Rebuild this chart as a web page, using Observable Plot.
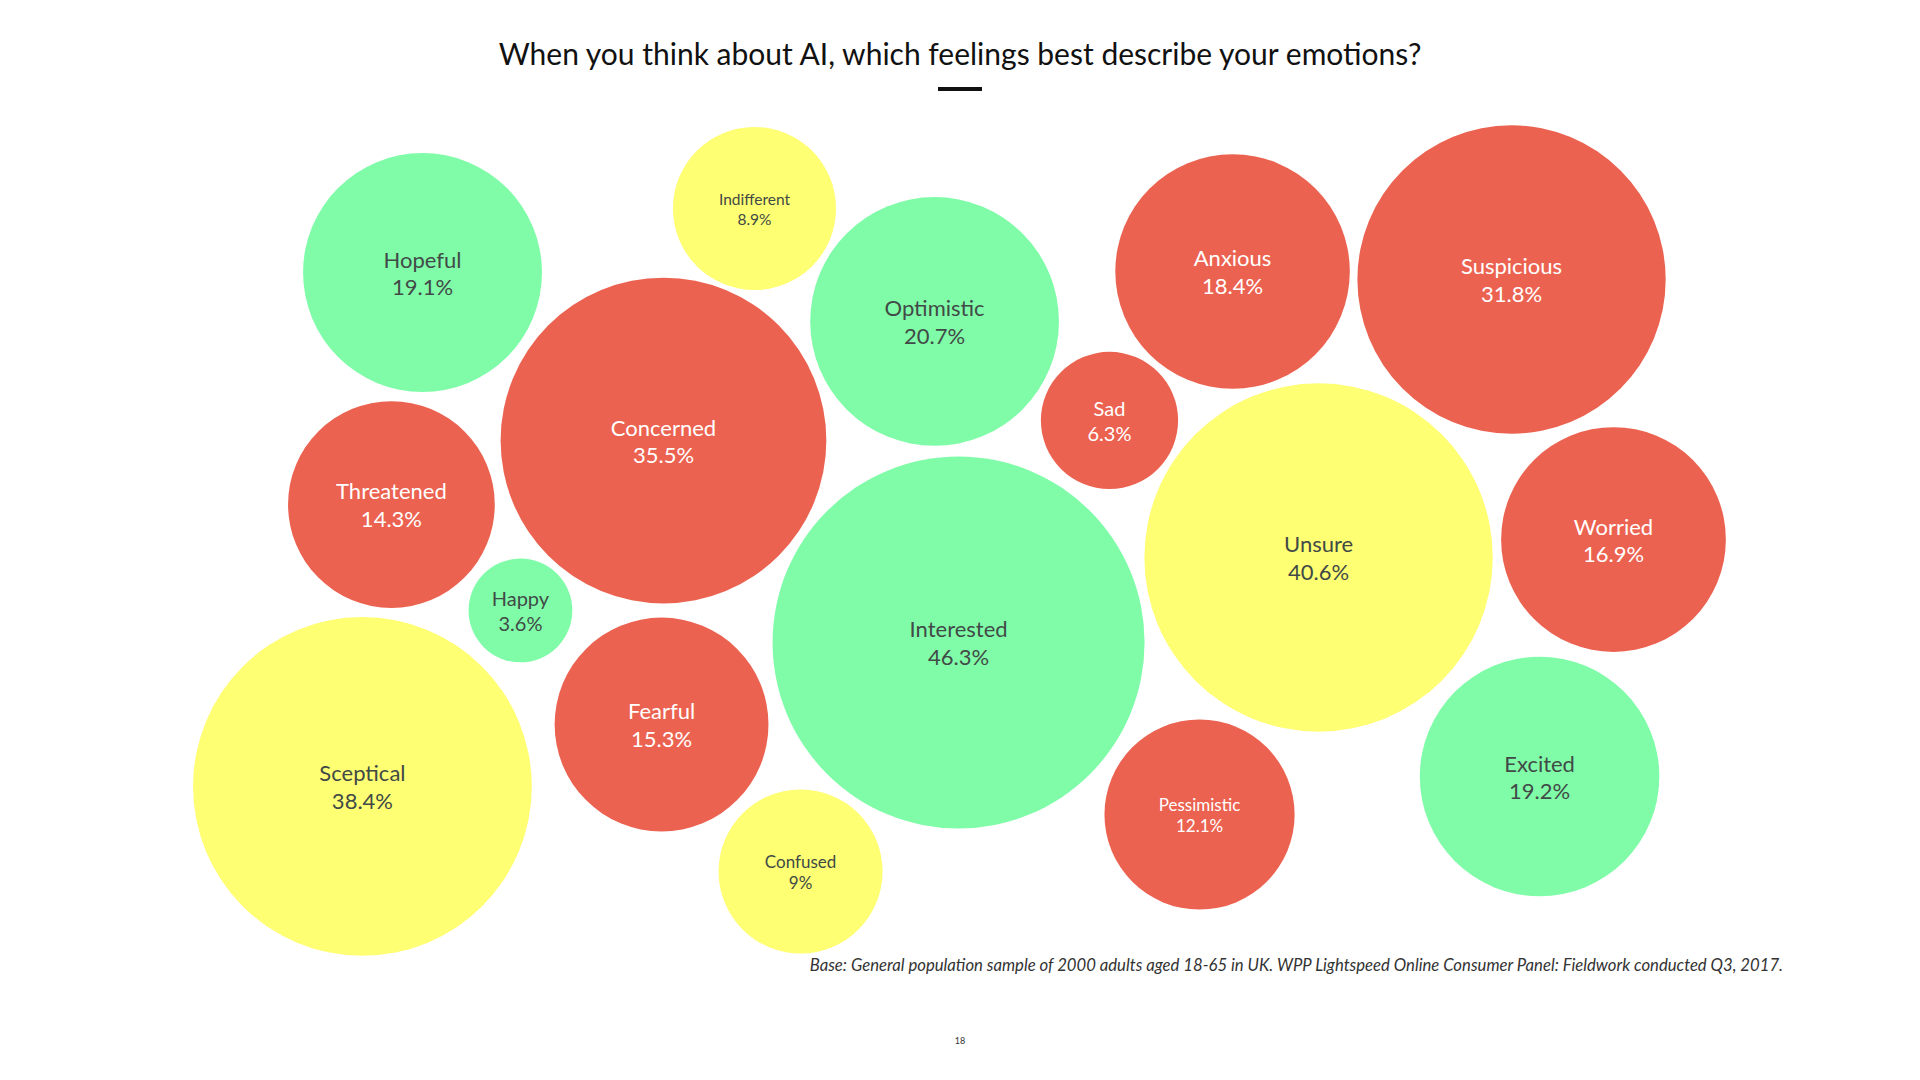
<!DOCTYPE html>
<html>
<head>
<meta charset="utf-8">
<script src="https://cdn.jsdelivr.net/npm/d3@7"></script>
<script src="https://cdn.jsdelivr.net/npm/@observablehq/plot@0.6"></script>
<style>
  html, body { margin: 0; padding: 0; background: #fff; }
  #page { position: relative; width: 1920px; height: 1080px; overflow: hidden; font-family: Lato, "Open Sans", sans-serif; }
  #title { position: absolute; top: 35px; left: 0; width: 1920px; text-align: center; font-size: 30px; color: #111; line-height: 36px; }
  #bar { position: absolute; top: 87px; left: 938px; width: 44px; height: 4px; background: #111; }
  #chart { position: absolute; top: 100px; left: 0; }
  #caption { position: absolute; top: 955px; left: 0; width: 1783px; text-align: right; font-style: italic; font-size: 16.7px; color: #333; }
  #pagenum { position: absolute; top: 1035px; left: 0; width: 1920px; text-align: center; font-size: 9px; color: #333; }
</style>
</head>
<body>
<div id="page">
  <div id="title">When you think about AI, which feelings best describe your emotions?</div>
  <div id="bar"></div>
  <div id="chart"></div>
  <div id="caption">Base: General population sample of 2000 adults aged 18-65 in UK. WPP Lightspeed Online Consumer Panel: Fieldwork conducted Q3, 2017.</div>
  <div id="pagenum">18</div>
</div>
<script>
// Data
const feelings = ["Hopeful","Indifferent","Optimistic","Anxious","Suspicious","Concerned","Threatened","Sad","Unsure","Worried","Happy","Interested","Fearful","Sceptical","Pessimistic","Excited","Confused"];
const shares   = [19.1, 8.9, 20.7, 18.4, 31.8, 35.5, 14.3, 6.3, 40.6, 16.9, 3.6, 46.3, 15.3, 38.4, 12.1, 19.2, 9];
const tones    = ["positive","neutral","positive","negative","negative","negative","negative","negative","neutral","negative","positive","positive","negative","neutral","negative","positive","neutral"];

// Bubble layout (percent of the chart area)
const layoutX = [21.98, 39.27, 48.65, 64.17, 78.70, 34.53, 20.36, 57.76, 68.65, 84.01, 27.08, 49.90, 34.43, 18.85, 62.45, 80.16, 41.67];
const layoutY = [19.55, 12.27, 25.11, 19.43, 20.34, 38.64, 45.91, 36.36, 51.93, 49.89, 57.95, 61.59, 70.91, 77.95, 81.14, 76.82, 87.61];

// Styles
const toneFill = {positive: "#80fca9", neutral: "#ffff73", negative: "#ec6250"};
const toneText = {positive: "#414a46", neutral: "#414a46", negative: "#ffffff"};
const labelSize = {Indifferent: 15.5, Pessimistic: 17, Confused: 17, Sad: 20, Happy: 20};

const data = feelings.map((f, i) => ({feeling: f, value: shares[i], tone: tones[i], lx: layoutX[i], ly: layoutY[i]}));

const W = 1920, H = 880;
const chart = Plot.plot({
  width: W,
  height: H,
  margin: 0,
  x: {domain: [0, 100], range: [0, W], axis: null},
  y: {domain: [0, 100], range: [0, H], axis: null},
  r: {type: "sqrt", domain: [0, d3.max(shares)], range: [0, 186]},
  style: {background: "transparent", fontFamily: "Lato, 'Open Sans', sans-serif"},
  marks: [
    Plot.dot(data, {x: "lx", y: "ly", r: "value", fill: d => toneFill[d.tone], stroke: "none", sort: null}),
    Plot.text(data, {
      x: "lx", y: "ly",
      text: d => `${d.feeling}\n${d.value}%`,
      fill: d => toneText[d.tone],
      fontSize: d => labelSize[d.feeling] ?? 22,
      lineHeight: 1.27,
      lineAnchor: "middle",
      textAnchor: "middle"
    })
  ]
});
document.getElementById("chart").appendChild(chart);
</script>
</body>
</html>
